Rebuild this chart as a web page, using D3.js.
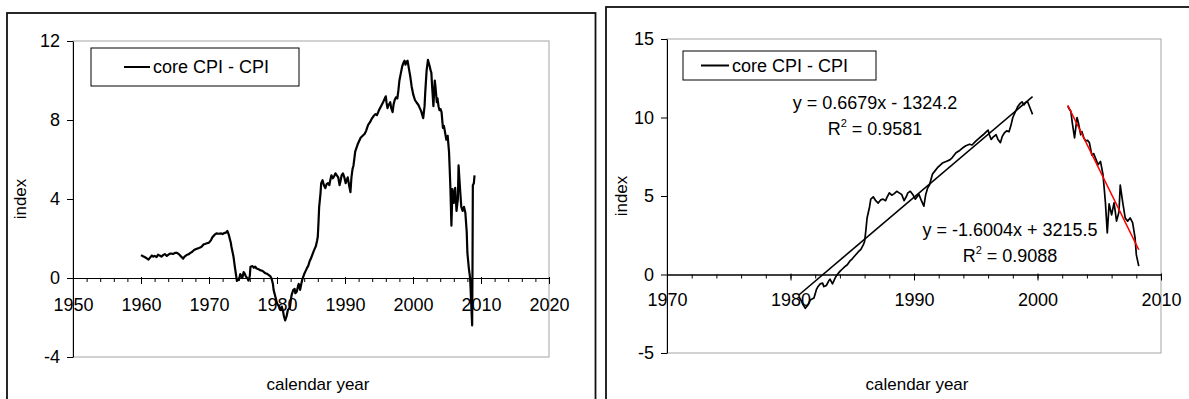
<!DOCTYPE html>
<html>
<head>
<meta charset="utf-8">
<script src="https://cdn.jsdelivr.net/npm/d3@7/dist/d3.min.js"></script>
<style>
  body { margin: 0; background: #fff; }
  text { font-family: Arial, "Liberation Sans", sans-serif; fill: #000; }
</style>
</head>
<body>
<svg id="chart" width="1189" height="399"></svg>
<script>
// core CPI - CPI
const years = [
  1960.0, 1960.3, 1960.6, 1960.9, 1961.1, 1961.3, 1961.6, 1961.8, 1962.0, 1962.3,
  1962.5, 1962.8, 1963.0, 1963.3, 1963.5, 1963.8, 1964.0, 1964.2, 1964.4, 1964.7,
  1965.0, 1965.2, 1965.4, 1965.6, 1965.8, 1966.0, 1966.2, 1966.4, 1966.7, 1967.0,
  1967.2, 1967.5, 1967.8, 1968.1, 1968.4, 1968.7, 1968.9, 1969.2, 1969.4, 1969.7,
  1970.0, 1970.3, 1970.5, 1970.8, 1971.1, 1971.4, 1971.8, 1972.0, 1972.2, 1972.5,
  1972.7, 1972.9, 1973.0, 1973.2, 1973.3, 1973.5, 1973.6, 1973.8, 1974.0, 1974.1,
  1974.3, 1974.4, 1974.6, 1974.7, 1974.9, 1975.1, 1975.2, 1975.4, 1975.5, 1975.7,
  1975.8, 1976.0, 1976.1, 1976.4, 1976.6, 1976.8, 1977.0, 1977.3, 1977.5, 1977.8,
  1978.0, 1978.3, 1978.5, 1978.8, 1979.0, 1979.2, 1979.4, 1979.5, 1979.8, 1980.0,
  1980.3, 1980.5, 1980.7, 1980.9, 1981.0, 1981.2, 1981.4, 1981.6, 1981.9, 1982.1,
  1982.2, 1982.4, 1982.6, 1982.7, 1982.9, 1983.1, 1983.2, 1983.4, 1983.6, 1983.7,
  1984.0, 1984.2, 1984.4, 1984.6, 1984.8, 1985.0, 1985.3, 1985.5, 1985.7, 1985.9,
  1986.0, 1986.1, 1986.2, 1986.4, 1986.5, 1986.7, 1986.9, 1987.1, 1987.3, 1987.5,
  1987.7, 1987.8, 1988.0, 1988.2, 1988.4, 1988.6, 1988.8, 1989.0, 1989.2, 1989.4,
  1989.5, 1989.7, 1989.9, 1990.1, 1990.3, 1990.4, 1990.6, 1990.8, 1990.95, 1991.1,
  1991.25, 1991.5, 1991.7, 1991.9, 1992.1, 1992.3, 1992.6, 1992.9, 1993.1, 1993.4,
  1993.7, 1993.95, 1994.2, 1994.5, 1994.7, 1995.0, 1995.3, 1995.6, 1995.8, 1996.0,
  1996.1, 1996.25, 1996.4, 1996.65, 1996.8, 1997.0, 1997.15, 1997.3, 1997.5, 1997.7,
  1997.85, 1998.0, 1998.2, 1998.4, 1998.6, 1998.75, 1998.9, 1999.05, 1999.2, 1999.35,
  1999.5, 1999.6, 1999.8, 2000.05, 2000.3, 2000.5, 2000.8, 2001.0, 2001.2, 2001.5,
  2001.7, 2001.8, 2002.0, 2002.2, 2002.45, 2002.6, 2002.7, 2002.8, 2003.0, 2003.2,
  2003.3, 2003.5, 2003.6, 2003.75, 2003.9, 2004.05, 2004.2, 2004.4, 2004.55, 2004.7,
  2004.9, 2005.1, 2005.3, 2005.4, 2005.5, 2005.65, 2005.8, 2006.0, 2006.2, 2006.4,
  2006.6, 2006.7, 2006.9, 2007.1, 2007.3, 2007.5, 2007.7, 2007.9, 2008.0, 2008.2,
  2008.4, 2008.55, 2008.7, 2008.75, 2008.8, 2008.95, 2009.05
];
const spread = [
  1.16, 1.10, 1.05, 0.98, 0.93, 1.02, 1.14, 1.08, 1.12, 1.06,
  1.18, 1.13, 1.08, 1.17, 1.21, 1.12, 1.17, 1.22, 1.24, 1.22,
  1.27, 1.28, 1.25, 1.20, 1.12, 1.05, 0.98, 1.08, 1.16, 1.20,
  1.26, 1.32, 1.42, 1.47, 1.50, 1.55, 1.58, 1.70, 1.72, 1.76,
  1.79, 1.92, 2.06, 2.18, 2.26, 2.24, 2.26, 2.22, 2.27, 2.30,
  2.38, 2.20, 2.06, 1.80, 1.58, 1.25, 1.08, 0.57, 0.10, -0.15,
  -0.05, -0.10, 0.20, 0.15, 0.00, 0.30, 0.25, 0.10, 0.05, -0.05,
  -0.13, 0.10, 0.57, 0.60, 0.52, 0.57, 0.48, 0.44, 0.40, 0.37,
  0.32, 0.24, 0.22, 0.15, 0.10, -0.03, -0.30, -0.60, -1.00, -1.28,
  -1.45, -1.62, -1.45, -1.70, -1.90, -2.15, -1.95, -1.62, -1.50, -0.95,
  -0.80, -0.60, -0.55, -0.77, -0.70, -0.40, -0.30, -0.60, -0.25, -0.10,
  0.20, 0.35, 0.50, 0.62, 0.85, 1.00, 1.27, 1.45, 1.60, 1.90,
  2.10, 2.80, 3.60, 4.30, 4.80, 4.95, 4.70, 4.55, 4.75, 4.80,
  4.70, 4.90, 5.20, 5.05, 5.15, 5.30, 5.20, 5.10, 4.70, 5.00,
  5.20, 5.30, 5.10, 4.80, 5.00, 5.10, 4.70, 4.35, 5.10, 5.50,
  5.70, 6.40, 6.60, 6.80, 6.95, 7.10, 7.20, 7.30, 7.45, 7.75,
  7.90, 8.07, 8.20, 8.30, 8.25, 8.50, 8.70, 8.90, 9.05, 9.20,
  8.90, 8.60, 8.75, 8.90, 8.60, 8.40, 8.80, 9.00, 9.15, 9.10,
  9.50, 10.00, 10.35, 10.70, 10.90, 11.00, 10.80, 10.95, 11.00, 10.70,
  10.40, 10.20, 9.70, 9.27, 9.00, 8.90, 8.76, 8.60, 8.45, 8.09,
  8.70, 9.40, 10.50, 11.04, 10.72, 10.50, 10.40, 9.76, 8.70, 10.00,
  9.70, 8.90, 9.10, 8.70, 8.50, 8.55, 8.40, 7.60, 7.70, 7.40,
  7.00, 7.20, 6.37, 5.50, 4.57, 2.65, 4.50, 3.80, 4.57, 3.40,
  4.00, 5.70, 4.60, 3.60, 3.40, 3.60, 3.30, 2.33, 1.27, 0.53,
  0.00, -1.20, -2.40, 0.50, 4.70, 4.80, 5.20
];

const leftXTicks = [1950, 1960, 1970, 1980, 1990, 2000, 2010, 2020];
const leftYTicks = [-4, 0, 4, 8, 12];
const rightXTicks = [1970, 1980, 1990, 2000, 2010];
const rightYTicks = [-5, 0, 5, 10, 15];

// linear trendlines shown on the right panel
const fitRanges = [[1980.7, 1999.6], [2002.45, 2008.2]];
const fitSlopes = [0.6679, -1.6004];
const fitIntercepts = [-1324.2, 3215.5];
const fitEquations = ["y = 0.6679x - 1324.2", "y = -1.6004x + 3215.5"];
const fitR2 = ["0.9581", "0.9088"];
const fitColors = ["#000", "#ff0000"];

const series = years.map((yr, i) => ({ x: yr, y: spread[i] }));
const svg = d3.select("#chart");
const plain = d => String(d);   // no thousands separator, ascii minus

function drawPanel(p) {
  const g = svg.append("g");

  // outer chart frame
  g.append("rect")
    .attr("x", p.frame[0]).attr("y", p.frame[1])
    .attr("width", p.frame[2]).attr("height", p.frame[3])
    .attr("fill", "none").attr("stroke", "#111").attr("stroke-width", 1.8);

  const x = d3.scaleLinear().domain(p.xDomain).range([p.left, p.right]);
  const y = d3.scaleLinear().domain(p.yDomain).range([p.bottom, p.top]);

  // plot area border
  g.append("rect")
    .attr("x", p.left).attr("y", p.top)
    .attr("width", p.right - p.left).attr("height", p.bottom - p.top)
    .attr("fill", "none").attr("stroke", "#b4b4b4").attr("stroke-width", 1.2);

  // y axis
  const yAxis = g.append("g")
    .attr("transform", `translate(${p.left},0)`)
    .call(d3.axisLeft(y).tickValues(p.yTicks).tickFormat(plain)
      .tickSize(6).tickPadding(7).tickSizeOuter(0));
  yAxis.selectAll("text").attr("font-size", 18).attr("font-family", "Arial, 'Liberation Sans', sans-serif");

  // x axis crosses at zero, minor ticks every two years
  const minor = d3.range(p.xDomain[0], p.xDomain[1] + 0.01, 2);
  g.append("g")
    .attr("transform", `translate(0,${y(0)})`)
    .call(d3.axisBottom(x).tickValues(minor).tickSize(4).tickFormat("").tickSizeOuter(0));
  const xAxis = g.append("g")
    .attr("transform", `translate(0,${y(0)})`)
    .call(d3.axisBottom(x).tickValues(p.xTicks).tickFormat(plain)
      .tickSize(6).tickPadding(p.xPad).tickSizeOuter(0));
  xAxis.selectAll("text").attr("font-size", 18).attr("font-family", "Arial, 'Liberation Sans', sans-serif");
  xAxis.selectAll(".tick line").attr("y1", -1);

  g.selectAll(".domain").attr("stroke", "#000");

  // axis titles
  g.append("text")
    .attr("transform", `translate(${p.yTitleX},${(p.top + p.bottom) / 2}) rotate(-90)`)
    .attr("text-anchor", "middle").attr("dy", "0.35em")
    .attr("font-size", 17).text("index");
  g.append("text")
    .attr("x", p.xTitleX).attr("y", 390)
    .attr("text-anchor", "middle")
    .attr("font-size", 17).text("calendar year");

  const line = d3.line().x(d => x(d.x)).y(d => y(d.y));

  p.segments.forEach(seg => {
    g.append("path")
      .datum(series.filter(d => d.x >= seg[0] - 1e-6 && d.x <= seg[1] + 1e-6))
      .attr("d", line)
      .attr("fill", "none").attr("stroke", "#000")
      .attr("stroke-width", p.lineWidth).attr("stroke-linejoin", "round");
  });

  if (p.fits) {
    fitRanges.forEach((r, i) => {
      const pts = r.map(v => ({ x: v, y: fitSlopes[i] * v + fitIntercepts[i] }));
      g.append("path").datum(pts).attr("d", line)
        .attr("fill", "none").attr("stroke", fitColors[i]).attr("stroke-width", 1.6);

      g.append("text").attr("text-anchor", "middle").attr("font-size", 18)
        .attr("x", p.fitLabels[i][0]).attr("y", p.fitLabels[i][1])
        .text(fitEquations[i]);
      const l2 = g.append("text").attr("text-anchor", "middle").attr("font-size", 18)
        .attr("x", p.fitLabels[i][0]).attr("y", p.fitLabels[i][1] + 26);
      l2.append("tspan").text("R");
      l2.append("tspan").attr("font-size", 11).attr("dy", -8).text("2");
      l2.append("tspan").attr("dy", 8).text(" = " + fitR2[i]);
    });
  }

  // legend
  const lg = g.append("g");
  lg.append("rect")
    .attr("x", p.legend[0]).attr("y", p.legend[1])
    .attr("width", p.legend[2]).attr("height", p.legend[3])
    .attr("fill", "#fff").attr("stroke", "#000").attr("stroke-width", 1);
  const ly = p.legend[1] + p.legend[3] / 2;
  lg.append("line")
    .attr("x1", p.legendLine[0]).attr("x2", p.legendLine[1])
    .attr("y1", ly).attr("y2", ly)
    .attr("stroke", "#000").attr("stroke-width", 2);
  lg.append("text")
    .attr("x", p.legendLine[1] + 3).attr("y", ly).attr("dy", "0.36em")
    .attr("font-size", 18).text("core CPI - CPI");
}

drawPanel({
  frame: [7, 13, 588.5, 400],
  left: 73, right: 549, top: 41, bottom: 357,
  xDomain: [1950, 2020], yDomain: [-4, 12],
  xTicks: leftXTicks, yTicks: leftYTicks, xPad: 14,
  yTitleX: 20, xTitleX: 318,
  segments: [[1960, 2009.1]], lineWidth: 2.2,
  legend: [91, 48, 208, 38], legendLine: [124, 150]
});

drawPanel({
  frame: [606, 7, 600, 400],
  left: 667, right: 1161, top: 39, bottom: 353,
  xDomain: [1970, 2010], yDomain: [-5, 15],
  xTicks: rightXTicks, yTicks: rightYTicks, xPad: 13,
  yTitleX: 621, xTitleX: 917,
  segments: fitRanges, lineWidth: 1.7,
  fits: true, fitLabels: [[875, 109], [1010, 236]],
  legend: [683, 51, 193, 29], legendLine: [701, 729]
});
</script>
</body>
</html>
